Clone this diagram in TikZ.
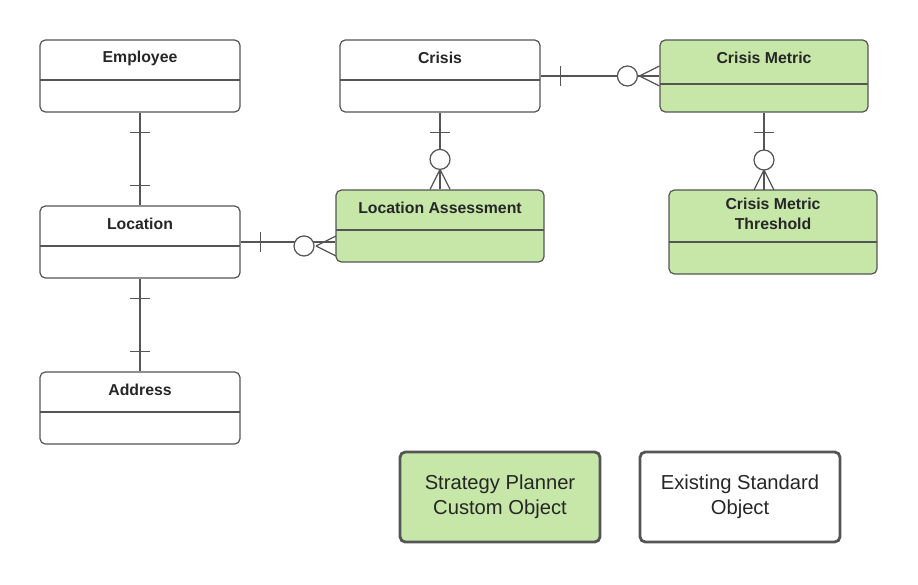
\documentclass[tikz,border=0pt]{standalone}
\usepackage{fontspec}
\setmainfont{Liberation Sans}
\usetikzlibrary{calc}
\definecolor{custgreen}{HTML}{C7E7A9}
\definecolor{edge}{HTML}{555555}
\begin{document}
\begin{tikzpicture}[
      x=0.02cm, y=-0.02cm,
      entity/.style={draw=edge, line width=0.7pt, rounded corners=3pt, minimum width=4cm, minimum height=1.44cm, inner sep=0pt},
      custom/.style={entity, fill=custgreen, minimum width=4.16cm},
      title/.style={font=\bfseries\fontsize{9}{11}\selectfont, text=black!85, align=center},
      rel/.style={draw=edge, line width=0.7pt},
      ring/.style={rel, fill=white},
      legend/.style={draw=edge, line width=1.6pt, rounded corners=3pt, minimum width=4cm, minimum height=1.8cm, align=center, font=\fontsize{11.5}{14}\selectfont, text=black!85}
    ]
    \useasboundingbox (0,0) rectangle (918,584);

    % Entities
    \node[entity] (employee) at (140, 76) {};
    \node[title] (employeet) at (140, 58) {Employee};
    \draw[rel] (40, 80) -- (240, 80);

    \node[entity] (crisis) at (440, 76) {};
    \node[title] (crisist) at (440, 58) {Crisis};
    \draw[rel] (340, 80) -- (540, 80);

    \node[custom] (metric) at (764, 76) {};
    \node[title] (metrict) at (764, 58) {Crisis Metric};
    \draw[rel] (660, 84) -- (868, 84);

    \node[entity] (location) at (140, 242) {};
    \node[title] (locationt) at (140, 224) {Location};
    \draw[rel] (40, 246) -- (240, 246);

    \node[custom] (assess) at (440, 226) {};
    \node[title] (assesst) at (440, 208) {Location Assessment};
    \draw[rel] (336, 230) -- (544, 230);

    \node[custom, minimum height=1.68cm] (threshold) at (773, 232) {};
    \node[title] (thresholdt) at (773, 214) {Crisis Metric\\Threshold};
    \draw[rel] (669, 242) -- (877, 242);

    \node[entity] (address) at (140, 408) {};
    \node[title] (addresst) at (140, 390) {Address};
    \draw[rel] (40, 412) -- (240, 412);

    % Legend
    \node[legend, fill=custgreen] (legcustom) at (500, 497) {Strategy Planner\\Custom Object};
    \node[legend] (legstd) at (740, 497) {Existing Standard\\Object};

    % One to one
    \draw[rel] (employee.south) -- (location.north);
    \draw[rel] ($(employee.south)+(-10,20)$) -- ++(20,0);
    \draw[rel] ($(location.north)+(-10,-20)$) -- ++(20,0);

    \draw[rel] (location.south) -- (address.north);
    \draw[rel] ($(location.south)+(-10,20)$) -- ++(20,0);
    \draw[rel] ($(address.north)+(-10,-20)$) -- ++(20,0);

    % One to many
    \draw[rel] (crisis.east) -- (metric.west);
    \draw[rel] ($(crisis.east)+(20,-10)$) -- ++(0,20);
    \draw[rel] ($(metric.west)+(-20,0)$) -- ($(metric.west)+(0,-10)$)
      ($(metric.west)+(-20,0)$) -- ($(metric.west)+(0,10)$);
    \draw[ring] ($(metric.west)+(-32,0)$) circle[radius=10];

    \draw[rel] (crisis.south) -- (assess.north);
    \draw[rel] ($(crisis.south)+(-10,20)$) -- ++(20,0);
    \draw[rel] ($(assess.north)+(0,-20)$) -- ($(assess.north)+(-10,0)$)
      ($(assess.north)+(0,-20)$) -- ($(assess.north)+(10,0)$);
    \draw[ring] ($(assess.north)+(0,-30)$) circle[radius=10];

    \draw[rel] (metric.south) -- (764, 190);
    \draw[rel] ($(metric.south)+(-10,20)$) -- ++(20,0);
    \draw[rel] (764, 170) -- (754, 190) (764, 170) -- (774, 190);
    \draw[ring] (764, 160) circle[radius=10];

    \draw[rel] (location.east) -- (assess.west |- location.east);
    \draw[rel] ($(location.east)+(20,-10)$) -- ++(0,20);
    \draw[rel] (316, 246) -- (336, 236) (316, 246) -- (336, 256);
    \draw[ring] (304, 246) circle[radius=10];

  \end{tikzpicture}
\end{document}
